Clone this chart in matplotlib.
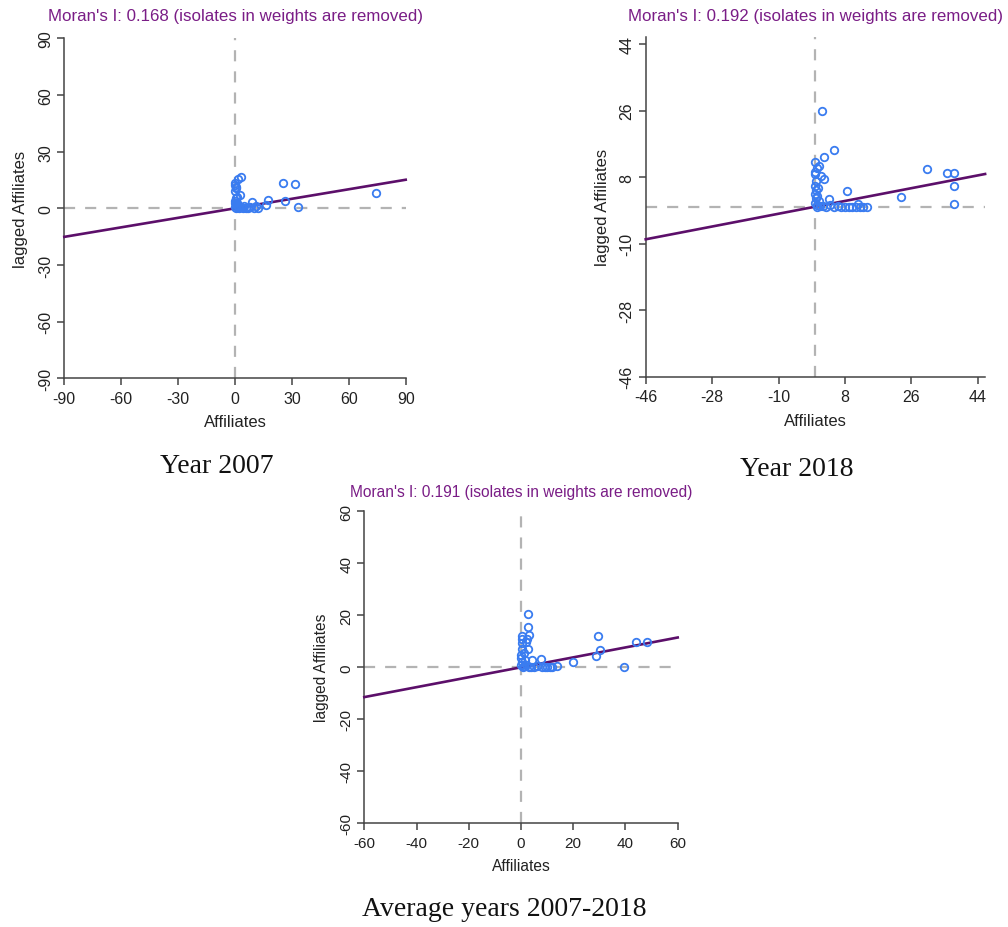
import matplotlib
matplotlib.use("Agg")
import matplotlib.pyplot as plt
import numpy as np

plt.rcParams['font.family'] = ['Liberation Sans', 'DejaVu Sans']
plt.rcParams['axes.unicode_minus'] = False

# ---------------- data ----------------
titles = ["Moran's I: 0.168 (isolates in weights are removed)",
          "Moran's I: 0.192 (isolates in weights are removed)",
          "Moran's I: 0.191 (isolates in weights are removed)"]
slopes = [0.168, 0.192, 0.191]
captions = ["Year 2007", "Year 2018", "Average years 2007-2018"]

ticks_2007 = [-90, -60, -30, 0, 30, 60, 90]
ticks_2018 = [-46, -28, -10, 8, 26, 44]
ticks_avg = [-60, -40, -20, 0, 20, 40, 60]
lims = [(-90, 90), (-46, 46), (-60, 60)]

x_2007 = [3.1, 1.5, 0.0, 0.3, 0.0, 2.4, 0.5, 0.2, 0.8, 1.0, 0.3, 0.0, 0.5, 1.5,
          2.0, 3.0, 4.0, 5.0, 6.0, 7.0, 8.0, 9.1, 9.9, 11.0, 12.0, 16.3, 17.3,
          25.4, 31.6, 26.3, 33.0, 74.5, 0.0, 0.6, 1.2, 0.0]
y_2007 = [16.8, 15.4, 13.6, 11.5, 9.2, 7.0, 5.5, 4.0, 3.0, 2.0, 1.5, 0.8, 0.3, 0.5,
          0.0, 0.5, 0.2, 1.0, 0.3, 0.0, 0.5, 3.3, 0.0, 1.2, 0.4, 1.8, 4.2,
          13.6, 13.1, 3.9, 0.9, 8.0, 12.5, 10.5, 6.2, 2.6]

x_2018 = [1.9, 5.1, 2.3, 0.0, 0.0, 1.5, 2.4, 0.1, 0.8, 0.0, 0.2, 0.0, 0.5, 0.2,
          1.0, 0.0, 0.5, 3.8, 8.6, 2.0, 3.0, 4.0, 5.0, 6.0, 7.0, 8.0, 9.0, 10.0,
          11.0, 11.5, 12.0, 13.0, 14.0, 23.2, 30.2, 35.7, 37.7, 37.7, 37.6, 0.3,
          1.0, 0.0, 0.4, 1.2]
y_2018 = [25.9, 15.3, 13.4, 12.1, 9.4, 8.4, 7.5, 6.9, 5.1, 5.5, 4.5, 3.5, 3.0, 2.3,
          1.5, 1.0, 0.5, 2.2, 4.1, 0.3, 0.0, 0.5, 0.0, 0.2, 0.0, 0.0, 0.0, 0.0,
          0.0, 0.8, 0.0, 0.0, 0.0, 2.5, 10.2, 9.1, 9.0, 5.6, 0.7, 10.5,
          11.0, 8.8, 0.0, 0.2]

x_avg = [2.8, 2.8, 3.2, 0.3, 1.9, 0.4, 2.8, 0.4, 0.0, 4.2, 7.6, 29.5, 30.4, 28.7,
         20.0, 39.6, 44.0, 48.4, 13.9, 0.0, 0.5, 1.0, 1.5, 2.0, 3.0, 4.0, 5.0,
         6.0, 8.0, 9.0, 10.0, 11.0, 12.0, 0.2, 1.0, 0.0, 0.7, 2.2]
y_avg = [20.4, 15.5, 12.3, 12.0, 9.7, 9.3, 7.2, 7.2, 4.6, 2.7, 3.2, 11.9, 6.8, 4.2,
         2.2, 0.1, 9.7, 9.9, 0.5, 1.0, 2.0, 0.5, 3.0, 1.0, 0.0, 0.3, 0.0,
         0.5, 0.0, 0.0, 0.0, 0.2, 0.0, 10.8, 5.5, 3.5, 0.0, 11.0]

xs = [x_2007, x_2018, x_avg]
ys = [y_2007, y_2018, y_avg]
ticks = [ticks_2007, ticks_2018, ticks_avg]

# ---------------- layout (pixels) ----------------
W, H = 1008, 928
fig = plt.figure(figsize=(W / 100, H / 100), dpi=100)

# left, top, right, bottom in pixels
boxes = [(64.3, 39.3, 405.7, 379.3),
         (645.7, 37.6, 985.1, 377.7),
         (364.3, 512.3, 677.7, 824.3)]
title_y = [17, 17, 493]
title_fs = [12.2, 12.2, 11.2]
tick_fs = [11.5, 11.5, 11]
label_fs = [12, 12, 11.2]
cap_pos = [(217, 473), (797, 476.5), (504, 916.5)]

PURPLE_T = '#7a1d86'
PURPLE_L = '#5c0f6a'
BLUE = '#3a7cf0'
GRAY = '#b3b3b3'
AX = '#444444'

for i in range(3):
    l, t, r, b = boxes[i]
    ax = fig.add_axes([l / W, 1 - b / H, (r - l) / W, (b - t) / H])
    lo, hi = lims[i]
    ax.set_xlim(lo, hi)
    ax.set_ylim(lo, hi)
    ax.set_xticks(ticks[i])
    ax.set_yticks(ticks[i])
    ax.set_xticklabels([str(v) for v in ticks[i]])
    ax.set_yticklabels([str(v) for v in ticks[i]], rotation=90, va='center')
    for s in ['top', 'right']:
        ax.spines[s].set_visible(False)
    for s in ['left', 'bottom']:
        ax.spines[s].set_color(AX)
        ax.spines[s].set_linewidth(1.1)
    ax.tick_params(direction='out', length=5, width=1.1, color=AX,
                   labelsize=tick_fs[i], labelcolor='#222222', pad=4)
    ax.tick_params(axis='y', pad=3)
    ax.patch.set_alpha(0)

    # dashed reference lines
    ax.axhline(0, color=GRAY, lw=1.6, dashes=(5, 4.5), zorder=1)
    ax.axvline(0, color=GRAY, lw=1.6, dashes=(5, 4.5), zorder=1)

    # regression line
    xx = np.array([lo, hi])
    ax.plot(xx, slopes[i] * xx, color=PURPLE_L, lw=1.9, zorder=3,
            clip_on=False)

    # points
    ax.plot(xs[i], ys[i], linestyle='none', marker='o', markersize=5.4,
            markerfacecolor='none', markeredgecolor=BLUE, markeredgewidth=1.3,
            zorder=4)

    ax.set_xlabel('Affiliates', fontsize=label_fs[i], color='#222222', labelpad=6)
    ax.set_ylabel('lagged Affiliates', fontsize=label_fs[i], color='#222222',
                  labelpad=7)

    fig.text((l + r) / 2 / W, 1 - title_y[i] / H, titles[i], color=PURPLE_T,
             fontsize=title_fs[i], ha='center', va='center')

    cx, cy = cap_pos[i]
    fig.text(cx / W, 1 - cy / H, captions[i], family=['Liberation Serif', 'DejaVu Serif'],
             fontsize=20, ha='center', va='baseline', color='#111111')

fig.savefig('out.png', dpi=100, facecolor='white')
